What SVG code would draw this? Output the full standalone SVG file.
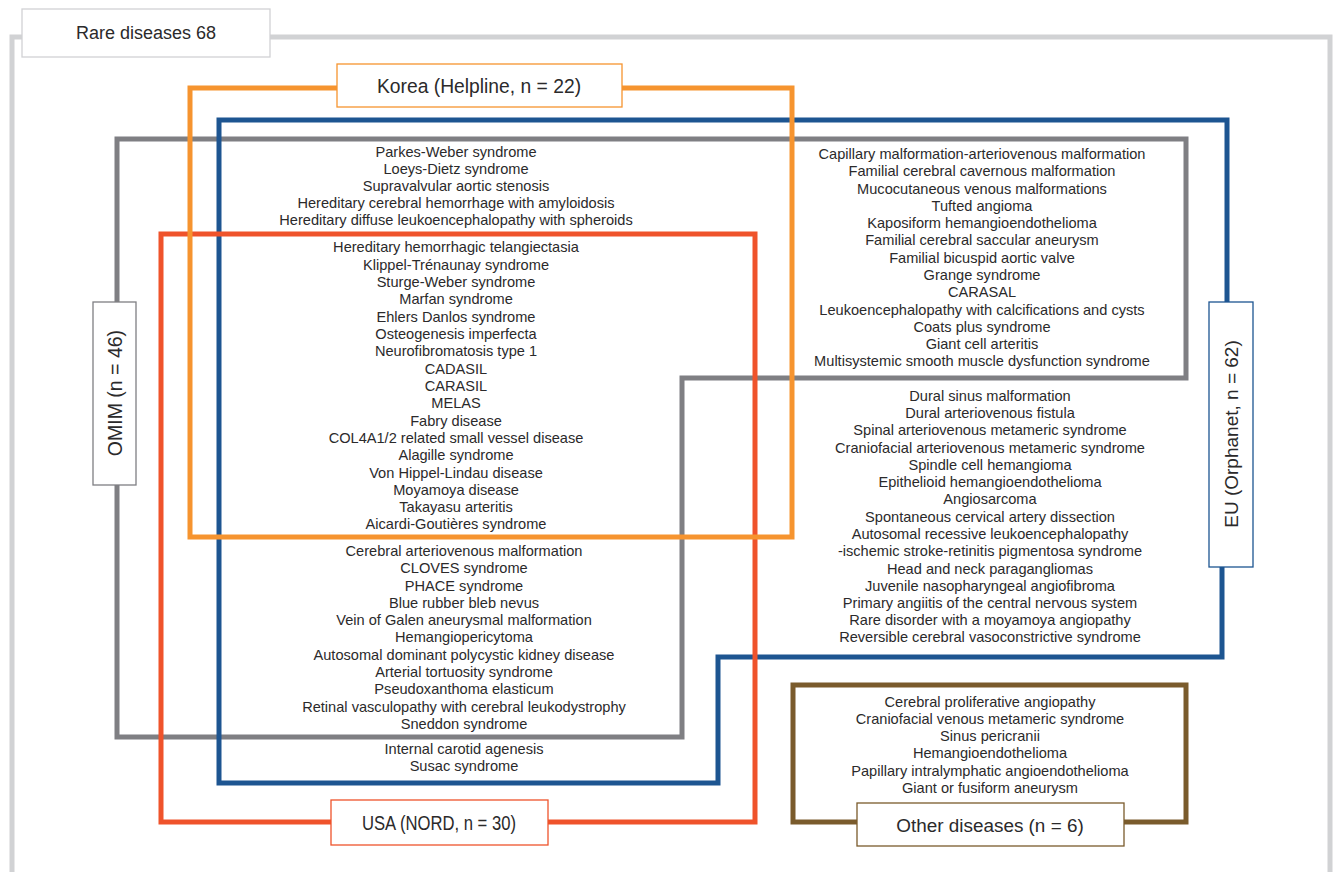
<svg xmlns="http://www.w3.org/2000/svg" width="1333" height="872" viewBox="0 0 1333 872">
<style>
.t{font-family:"Liberation Sans",Arial,sans-serif;font-size:14.6px;fill:#2b2a2b;text-anchor:middle;dominant-baseline:central}
.lb{font-family:"Liberation Sans",Arial,sans-serif;font-size:18px;fill:#2b2a2b;text-anchor:middle;dominant-baseline:central}
.ln{fill:none;stroke-width:5;stroke-linejoin:miter}
.box{fill:#fff;stroke-width:1.3}
</style>
<rect width="1333" height="872" fill="#fff"/>
<g id="connectors">
<path class="ln" stroke="#d1d2d4" d="M12,880 V37 H1330 V880"/>
<path class="ln" stroke="#7f7f83" d="M117,139 H1186 V378 H682 V737 H117 Z"/>
<path class="ln" stroke="#1d5591" d="M219,120 H1227 V434 H1222 V657 H718 V783 H219 Z"/>
<rect class="ln" stroke="#ef532b" x="161" y="234" width="594" height="588"/>
<rect class="ln" stroke="#f6942f" x="190" y="88" width="602" height="449"/>
<rect class="ln" stroke="#7a5b2c" x="793" y="685" width="393" height="137"/>
</g>
<g id="rare">
<rect class="box" stroke="#d1d2d4" x="22" y="9" width="248" height="48"/>
<text class="lb" x="146" y="33">Rare diseases 68</text>
</g>
<g id="korea">
<rect class="box" stroke="#f6942f" x="337" y="64" width="285" height="43"/>
<text class="lb" x="479" y="86" style="font-size:19.3px">Korea (Helpline, n = 22)</text>
</g>
<g id="omim">
<rect class="box" stroke="#7f7f83" x="93" y="302" width="43" height="183"/>
<text class="lb" transform="translate(115,393) rotate(-90)" style="font-size:19.5px">OMIM (n = 46)</text>
</g>
<g id="eu">
<rect class="box" stroke="#1d5591" x="1209" y="302" width="44" height="265"/>
<text class="lb" transform="translate(1231,434) rotate(-90)" style="font-size:19px">EU (Orphanet, n = 62)</text>
</g>
<g id="usa">
<rect class="box" stroke="#ef532b" x="331" y="800" width="217" height="45"/>
<text class="lb" x="439" y="823" style="font-size:19.3px" textLength="154" lengthAdjust="spacingAndGlyphs">USA (NORD, n = 30)</text>
</g>
<g id="other">
<rect class="box" stroke="#7a5b2c" x="857" y="803" width="267" height="43"/>
<text class="lb" x="990" y="825" style="font-size:18.9px">Other diseases (n = 6)</text>
</g>
<g id="korea-eu-omim">
<text class="t" x="456" y="152">Parkes-Weber syndrome</text>
<text class="t" x="456" y="169">Loeys-Dietz syndrome</text>
<text class="t" x="456" y="186">Supravalvular aortic stenosis</text>
<text class="t" x="456" y="203">Hereditary cerebral hemorrhage with amyloidosis</text>
<text class="t" x="456" y="220">Hereditary diffuse leukoencephalopathy with spheroids</text>
</g>
<g id="all-four">
<text class="t" x="456" y="247">Hereditary hemorrhagic telangiectasia</text>
<text class="t" x="456" y="265">Klippel-Trénaunay syndrome</text>
<text class="t" x="456" y="282">Sturge-Weber syndrome</text>
<text class="t" x="456" y="299">Marfan syndrome</text>
<text class="t" x="456" y="317">Ehlers Danlos syndrome</text>
<text class="t" x="456" y="334">Osteogenesis imperfecta</text>
<text class="t" x="456" y="351">Neurofibromatosis type 1</text>
<text class="t" x="456" y="369">CADASIL</text>
<text class="t" x="456" y="386">CARASIL</text>
<text class="t" x="456" y="403">MELAS</text>
<text class="t" x="456" y="421">Fabry disease</text>
<text class="t" x="456" y="438">COL4A1/2 related small vessel disease</text>
<text class="t" x="456" y="455">Alagille syndrome</text>
<text class="t" x="456" y="473">Von Hippel-Lindau disease</text>
<text class="t" x="456" y="490">Moyamoya disease</text>
<text class="t" x="456" y="507">Takayasu arteritis</text>
<text class="t" x="456" y="524">Aicardi-Goutières syndrome</text>
</g>
<g id="usa-eu-omim">
<text class="t" x="464" y="551">Cerebral arteriovenous malformation</text>
<text class="t" x="464" y="568">CLOVES syndrome</text>
<text class="t" x="464" y="586">PHACE syndrome</text>
<text class="t" x="464" y="603">Blue rubber bleb nevus</text>
<text class="t" x="464" y="620">Vein of Galen aneurysmal malformation</text>
<text class="t" x="464" y="637">Hemangiopericytoma</text>
<text class="t" x="464" y="655">Autosomal dominant polycystic kidney disease</text>
<text class="t" x="464" y="672">Arterial tortuosity syndrome</text>
<text class="t" x="464" y="689">Pseudoxanthoma elasticum</text>
<text class="t" x="464" y="707">Retinal vasculopathy with cerebral leukodystrophy</text>
<text class="t" x="464" y="724">Sneddon syndrome</text>
</g>
<g id="usa-eu">
<text class="t" x="464" y="749">Internal carotid agenesis</text>
<text class="t" x="464" y="766">Susac syndrome</text>
</g>
<g id="eu-omim">
<text class="t" x="982" y="154">Capillary malformation-arteriovenous malformation</text>
<text class="t" x="982" y="171">Familial cerebral cavernous malformation</text>
<text class="t" x="982" y="189">Mucocutaneous venous malformations</text>
<text class="t" x="982" y="206">Tufted angioma</text>
<text class="t" x="982" y="223">Kaposiform hemangioendothelioma</text>
<text class="t" x="982" y="240">Familial cerebral saccular aneurysm</text>
<text class="t" x="982" y="258">Familial bicuspid aortic valve</text>
<text class="t" x="982" y="275">Grange syndrome</text>
<text class="t" x="982" y="292">CARASAL</text>
<text class="t" x="982" y="310">Leukoencephalopathy with calcifications and cysts</text>
<text class="t" x="982" y="327">Coats plus syndrome</text>
<text class="t" x="982" y="344">Giant cell arteritis</text>
<text class="t" x="982" y="361">Multisystemic smooth muscle dysfunction syndrome</text>
</g>
<g id="eu-only">
<text class="t" x="990" y="396">Dural sinus malformation</text>
<text class="t" x="990" y="413">Dural arteriovenous fistula</text>
<text class="t" x="990" y="430">Spinal arteriovenous metameric syndrome</text>
<text class="t" x="990" y="448">Craniofacial arteriovenous metameric syndrome</text>
<text class="t" x="990" y="465">Spindle cell hemangioma</text>
<text class="t" x="990" y="482">Epithelioid hemangioendothelioma</text>
<text class="t" x="990" y="499">Angiosarcoma</text>
<text class="t" x="990" y="517">Spontaneous cervical artery dissection</text>
<text class="t" x="990" y="534">Autosomal recessive leukoencephalopathy</text>
<text class="t" x="990" y="551">-ischemic stroke-retinitis pigmentosa syndrome</text>
<text class="t" x="990" y="569">Head and neck paragangliomas</text>
<text class="t" x="990" y="586">Juvenile nasopharyngeal angiofibroma</text>
<text class="t" x="990" y="603">Primary angiitis of the central nervous system</text>
<text class="t" x="990" y="620">Rare disorder with a moyamoya angiopathy</text>
<text class="t" x="990" y="637">Reversible cerebral vasoconstrictive syndrome</text>
</g>
<g id="other-list">
<text class="t" x="990" y="702">Cerebral proliferative angiopathy</text>
<text class="t" x="990" y="719">Craniofacial venous metameric syndrome</text>
<text class="t" x="990" y="736">Sinus pericranii</text>
<text class="t" x="990" y="753">Hemangioendothelioma</text>
<text class="t" x="990" y="771">Papillary intralymphatic angioendothelioma</text>
<text class="t" x="990" y="788">Giant or fusiform aneurysm</text>
</g>
</svg>
